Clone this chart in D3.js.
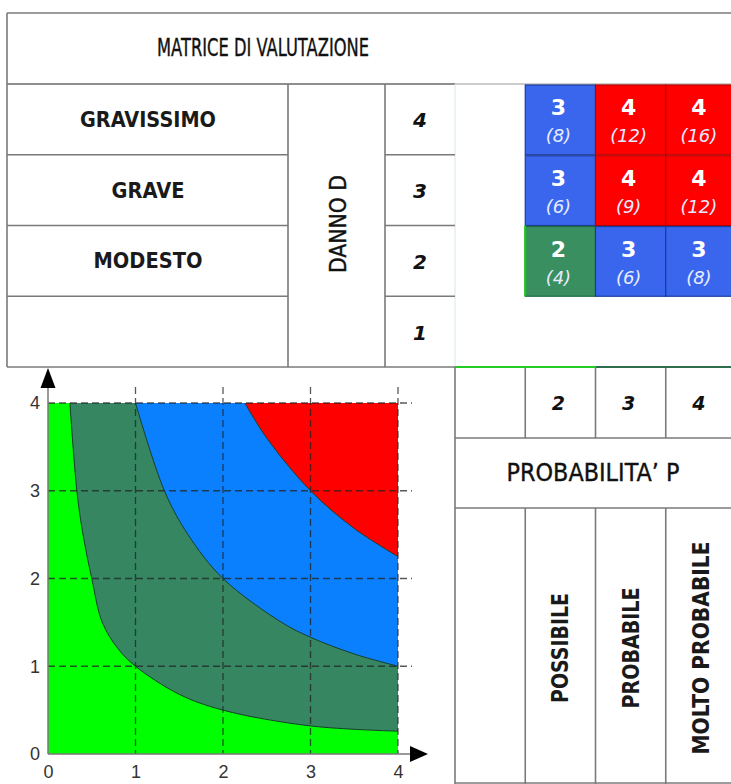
<!DOCTYPE html>
<html>
<head>
<meta charset="utf-8">
<script src="https://cdn.jsdelivr.net/npm/d3@7"></script>
<style>
  body { margin: 0; background: #fff; }
  svg { display: block; }
</style>
</head>
<body>
<div id="chart"></div>
<script>
// data
const probLevels = [1, 2, 3, 4];
const dannoLevels = [4, 3, 2, 1];
const dannoLabels = ["GRAVISSIMO", "GRAVE", "MODESTO", ""];
const probLabels = ["", "POSSIBILE", "PROBABILE", "MOLTO PROBABILE"];
const matrixRows = [4, 3, 2];
const matrixCols = [2, 3, 4];
const riskLevel = [[3, 4, 4], [3, 4, 4], [2, 3, 3]];
const riskProduct = [[8, 12, 16], [6, 9, 12], [4, 6, 8]];
const levelColors = { 2: "#3a8f60", 3: "#3a66ee", 4: "#ff0000" };
const levelBorders = { 2: "#1f6a3f", 3: "#1c3a9a", 4: "#b80000" };

// boundary curves of the chart (P, D points)
const curveLow = [[0.25, 4], [0.33, 3], [0.4, 2.5], [0.5, 2], [0.62, 1.5], [0.8, 1.2], [1, 1], [1.5, 0.68], [2, 0.5], [3, 0.32], [4, 0.26]];
const curveMid = [[1, 4], [1.33, 3], [1.6, 2.5], [2, 2], [2.67, 1.5], [3, 1.33], [3.5, 1.14], [4, 1]];
const curveHigh = [[2.25, 4], [2.5, 3.6], [3, 3], [3.5, 2.57], [4, 2.25]];
const chartTicks = [0, 1, 2, 3, 4];

const font = "'DejaVu Sans', sans-serif";
const lineCol = "#7a7a7a";

const svg = d3.select("#chart").append("svg")
    .attr("width", 731)
    .attr("height", 784);

// ---------- top table ----------
const yRow = d3.scaleBand().domain(dannoLevels).range([84, 367]);
const xCol = d3.scaleBand().domain(probLevels).range([455, 736]);

const tbl = svg.append("g")
    .attr("stroke", lineCol)
    .attr("stroke-width", 1.6);

tbl.append("line").attr("x1", 7).attr("x2", 731).attr("y1", 13).attr("y2", 13);
tbl.append("line").attr("x1", 7).attr("x2", 731).attr("y1", 84).attr("y2", 84).attr("stroke", "#bbb");
tbl.append("line").attr("x1", 7).attr("x2", 455).attr("y1", 84).attr("y2", 84);
tbl.append("line").attr("x1", 7).attr("x2", 7).attr("y1", 13).attr("y2", 367);
tbl.append("line").attr("x1", 288).attr("x2", 288).attr("y1", 84).attr("y2", 367);
tbl.append("line").attr("x1", 385).attr("x2", 385).attr("y1", 84).attr("y2", 367);
tbl.append("line").attr("x1", 455).attr("x2", 455).attr("y1", 84).attr("y2", 367)
    .attr("stroke", "#d6ead6").attr("stroke-width", 1);
tbl.append("line").attr("x1", 7).attr("x2", 455).attr("y1", 367).attr("y2", 367);

dannoLevels.slice(1).forEach(d => {
  const yy = yRow(d);
  tbl.append("line").attr("x1", 7).attr("x2", 288).attr("y1", yy).attr("y2", yy);
  tbl.append("line").attr("x1", 385).attr("x2", 455).attr("y1", yy).attr("y2", yy);
});

svg.append("text")
    .attr("x", 263).attr("y", 56)
    .attr("text-anchor", "middle")
    .attr("font-family", font).attr("font-size", 24)
    .attr("textLength", 212).attr("lengthAdjust", "spacingAndGlyphs")
    .attr("fill", "#111").attr("stroke", "#111").attr("stroke-width", 0.4)
    .text("MATRICE DI VALUTAZIONE");

const rowLabelWidths = [136, 73, 109, 0];
dannoLevels.forEach((d, i) => {
  if (!dannoLabels[i]) return;
  svg.append("text")
      .attr("x", 148).attr("y", yRow(d) + yRow.bandwidth() / 2 + 7.5)
      .attr("text-anchor", "middle")
      .attr("font-family", font).attr("font-size", 21).attr("font-weight", "bold")
      .attr("textLength", rowLabelWidths[i]).attr("lengthAdjust", "spacingAndGlyphs")
      .attr("fill", "#1a1a1a")
      .text(dannoLabels[i]);
});

svg.append("text")
    .attr("transform", "translate(346,224) rotate(-90)")
    .attr("text-anchor", "middle")
    .attr("font-family", font).attr("font-size", 23)
    .attr("textLength", 98).attr("lengthAdjust", "spacingAndGlyphs")
    .attr("fill", "#111").attr("stroke", "#111").attr("stroke-width", 0.4)
    .text("DANNO D");

dannoLevels.forEach(d => {
  svg.append("text")
      .attr("x", 420).attr("y", yRow(d) + yRow.bandwidth() / 2 + 8)
      .attr("text-anchor", "middle")
      .attr("font-family", font).attr("font-size", 20)
      .attr("font-style", "italic").attr("font-weight", "bold")
      .attr("fill", "#111")
      .text(d);
});

// risk matrix cells
matrixRows.forEach((d, r) => {
  matrixCols.forEach((p, c) => {
    const lv = riskLevel[r][c];
    const x0 = xCol(p), y0 = yRow(d);
    const w = xCol.bandwidth(), h = yRow.bandwidth();
    svg.append("rect")
        .attr("x", x0).attr("y", y0 + 1)
        .attr("width", w).attr("height", h - 1)
        .attr("fill", levelColors[lv])
        .attr("stroke", levelBorders[lv]).attr("stroke-width", 1.2);
    svg.append("text")
        .attr("x", x0 + w / 2 - 2).attr("y", y0 + 31)
        .attr("text-anchor", "middle")
        .attr("font-family", font).attr("font-size", 22).attr("font-weight", "bold")
        .attr("fill", "#fff")
        .text(lv);
    svg.append("text")
        .attr("x", x0 + w / 2 - 2).attr("y", y0 + 58)
        .attr("text-anchor", "middle")
        .attr("font-family", font).attr("font-size", 18).attr("font-style", "italic")
        .attr("fill", "#e6ecff")
        .text("(" + riskProduct[r][c] + ")");
  });
});
// bright green edge on the left of the green cell
svg.append("line")
    .attr("x1", xCol(2)).attr("x2", xCol(2))
    .attr("y1", yRow(2)).attr("y2", yRow(2) + yRow.bandwidth())
    .attr("stroke", "#12c912").attr("stroke-width", 2);

// ---------- bottom right table ----------
const bt = svg.append("g")
    .attr("stroke", lineCol)
    .attr("stroke-width", 1.6);
bt.append("line").attr("x1", 455).attr("x2", 596).attr("y1", 367).attr("y2", 367).attr("stroke", "#22cc22").attr("stroke-width", 2);
bt.append("line").attr("x1", 596).attr("x2", 731).attr("y1", 367).attr("y2", 367).attr("stroke", "#2f6e4c").attr("stroke-width", 2);
bt.append("line").attr("x1", 455).attr("x2", 455).attr("y1", 367).attr("y2", 784);
[438, 508, 783].forEach(yy => {
  bt.append("line").attr("x1", 455).attr("x2", 731).attr("y1", yy).attr("y2", yy);
});
probLevels.slice(1).forEach(p => {
  const xx = xCol(p);
  bt.append("line").attr("x1", xx).attr("x2", xx).attr("y1", 368).attr("y2", 438);
  bt.append("line").attr("x1", xx).attr("x2", xx).attr("y1", 508).attr("y2", 784);
});

probLevels.slice(1).forEach(p => {
  svg.append("text")
      .attr("x", xCol(p) + xCol.bandwidth() / 2 - 2).attr("y", 410)
      .attr("text-anchor", "middle")
      .attr("font-family", font).attr("font-size", 19)
      .attr("font-style", "italic").attr("font-weight", "bold")
      .attr("fill", "#111")
      .text(p);
});

svg.append("text")
    .attr("x", 593).attr("y", 481)
    .attr("text-anchor", "middle")
    .attr("font-family", font).attr("font-size", 25)
    .attr("textLength", 173).attr("lengthAdjust", "spacingAndGlyphs")
    .attr("fill", "#111").attr("stroke", "#111").attr("stroke-width", 0.4)
    .text("PROBABILITA\u2019 P");

const probLabelWidths = [0, 110, 121, 213];
probLevels.forEach((p, i) => {
  if (!probLabels[i]) return;
  const cx = xCol(p) + xCol.bandwidth() / 2 - 1;
  svg.append("text")
      .attr("transform", `translate(${cx + 9},648) rotate(-90)`)
      .attr("text-anchor", "middle")
      .attr("font-family", font).attr("font-size", 23).attr("font-weight", "bold")
      .attr("textLength", probLabelWidths[i]).attr("lengthAdjust", "spacingAndGlyphs")
      .attr("fill", "#1a1a1a")
      .text(probLabels[i]);
});

// ---------- risk chart ----------
const x = d3.scaleLinear().domain([0, 4]).range([48, 398]);
const y = d3.scaleLinear().domain([0, 4]).range([754, 403]);

const plot = svg.append("g");

plot.append("rect")
    .attr("x", x(0)).attr("y", y(4))
    .attr("width", x(4) - x(0)).attr("height", y(0) - y(4))
    .attr("fill", "#00ff00");

const smooth = d3.curveCatmullRom.alpha(0.5);

const areaAbove = d3.area()
    .x(d => x(d[0]))
    .y0(y(4))
    .y1(d => y(d[1]))
    .curve(smooth);

const bands = [
  { pts: curveLow, fill: "#368662" },
  { pts: curveMid, fill: "#0a80ff" },
  { pts: curveHigh, fill: "#ff0000" }
];
bands.forEach(b => {
  plot.append("path")
      .attr("d", areaAbove(b.pts))
      .attr("fill", b.fill);
});

const boundLine = d3.line()
    .x(d => x(d[0]))
    .y(d => y(d[1]))
    .curve(smooth);
bands.forEach(b => {
  plot.append("path")
      .attr("d", boundLine(b.pts))
      .attr("fill", "none")
      .attr("stroke", "#16402a")
      .attr("stroke-width", 1);
});

// dashed grid
chartTicks.slice(1).forEach(t => {
  plot.append("line")
      .attr("x1", x(t)).attr("x2", x(t))
      .attr("y1", y(4) - 16).attr("y2", y(0))
      .attr("stroke", "#222").attr("stroke-opacity", 0.75)
      .attr("stroke-width", 1.3)
      .attr("stroke-dasharray", "7,4");
  plot.append("line")
      .attr("x1", x(0)).attr("x2", x(4) + 14)
      .attr("y1", y(t)).attr("y2", y(t))
      .attr("stroke", "#222").attr("stroke-opacity", 0.75)
      .attr("stroke-width", 1.3)
      .attr("stroke-dasharray", "7,4");
});

// axis lines with arrows
plot.append("line")
    .attr("x1", x(0)).attr("x2", x(0))
    .attr("y1", y(0)).attr("y2", y(4) - 16)
    .attr("stroke", "#777").attr("stroke-width", 1.5);
plot.append("line")
    .attr("x1", x(0)).attr("x2", x(4) + 12)
    .attr("y1", y(0)).attr("y2", y(0))
    .attr("stroke", "#777").attr("stroke-width", 1.5);
plot.append("path")
    .attr("d", d3.line()([[x(0), y(4) - 35], [x(0) - 7.5, y(4) - 15], [x(0) + 7.5, y(4) - 15]]) + "Z")
    .attr("fill", "#000");
plot.append("path")
    .attr("d", d3.line()([[x(4) + 30, y(0)], [x(4) + 12, y(0) - 8], [x(4) + 12, y(0) + 8]]) + "Z")
    .attr("fill", "#000");

const axisY = plot.append("g")
    .attr("transform", `translate(${x(0)},0)`)
    .call(d3.axisLeft(y).tickValues(chartTicks).tickSize(0).tickPadding(8).tickFormat(d3.format("d")));
const axisX = plot.append("g")
    .attr("transform", `translate(0,${y(0)})`)
    .call(d3.axisBottom(x).tickValues(chartTicks).tickSize(0).tickPadding(11).tickFormat(d3.format("d")));
[axisY, axisX].forEach(a => {
  a.select(".domain").remove();
  a.selectAll("text")
      .attr("font-family", "'Liberation Sans', Arial, sans-serif")
      .attr("font-size", 18)
      .attr("fill", "#333");
});
</script>
</body>
</html>
